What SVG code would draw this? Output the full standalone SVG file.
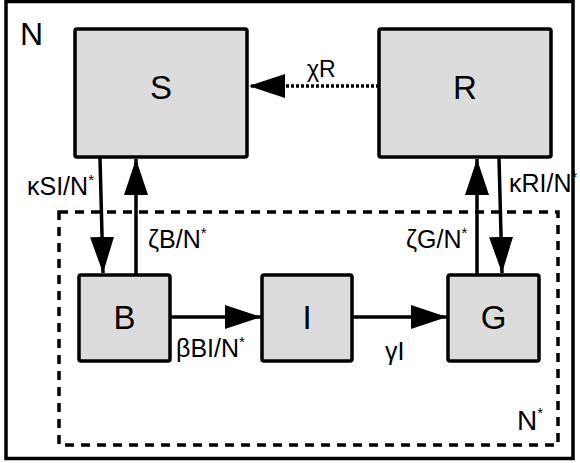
<svg xmlns="http://www.w3.org/2000/svg" width="580" height="463" viewBox="0 0 580 463">
<style>
text{font-family:"Liberation Sans",Arial,sans-serif;fill:#000}
.box{fill:#dcdcdc;stroke:#000;stroke-width:3.5}
.big{font-size:33px;text-anchor:middle}
.lbl{font-size:25px}
.sup{font-size:15px}
.edge{stroke:#000;stroke-width:3.5;fill:none}
</style>
<defs>
<marker id="ah" markerUnits="userSpaceOnUse" markerWidth="38" markerHeight="26" refX="36" refY="12" orient="auto">
<path d="M0,0 L36,12 L0,24 Z" fill="#000"/>
</marker>
</defs>
<rect x="6" y="1.5" width="567" height="457" fill="#fff" stroke="#000" stroke-width="3.5"/>
<text x="20" y="45" style="font-size:32px">N</text>
<rect x="59" y="212" width="499" height="233" fill="none" stroke="#000" stroke-width="3.5" stroke-dasharray="9 7"/>
<text x="517" y="430" style="font-size:28px">N<tspan class="sup" dy="-12">*</tspan></text>
<g id="S"><rect class="box" x="75" y="29" width="172" height="128" rx="2"/><text class="big" x="161" y="99">S</text></g>
<g id="R"><rect class="box" x="379" y="29" width="172" height="128" rx="2"/><text class="big" x="465" y="99">R</text></g>
<g id="B"><rect class="box" x="79" y="275" width="91" height="86" rx="2"/><text class="big" x="124.5" y="329">B</text></g>
<g id="I"><rect class="box" x="262" y="275" width="90" height="86" rx="2"/><text class="big" x="307" y="329">I</text></g>
<g id="G"><rect class="box" x="448" y="275" width="91" height="86" rx="2"/><text class="big" x="493.5" y="329">G</text></g>
<g id="connectors">
<line class="edge" x1="379" y1="86" x2="249" y2="86" stroke-dasharray="3 2" marker-end="url(#ah)"/>
<line class="edge" x1="100" y1="158" x2="103" y2="273" marker-end="url(#ah)"/>
<line class="edge" x1="136" y1="275" x2="136" y2="159" marker-end="url(#ah)"/>
<line class="edge" x1="477" y1="275" x2="477" y2="159" marker-end="url(#ah)"/>
<line class="edge" x1="499" y1="158" x2="502" y2="273" marker-end="url(#ah)"/>
<line class="edge" x1="170" y1="317" x2="261" y2="317" marker-end="url(#ah)"/>
<line class="edge" x1="352" y1="317" x2="447" y2="317" marker-end="url(#ah)"/>
</g>
<g id="labels">
<text class="lbl" x="307" y="77" style="font-size:23px">χR</text>
<text class="lbl" x="27" y="195">κSI/N<tspan class="sup" dy="-10">*</tspan></text>
<text class="lbl" x="148" y="248">ζB/N<tspan class="sup" dy="-10">*</tspan></text>
<text class="lbl" x="406" y="248">ζG/N<tspan class="sup" dy="-10">*</tspan></text>
<text class="lbl" x="509" y="192">κRI/N<tspan class="sup" dy="-10">*</tspan></text>
<text class="lbl" x="176" y="357">βBI/N<tspan class="sup" dy="-10">*</tspan></text>
<text class="lbl" x="385" y="360">γI</text>
</g>
</svg>
